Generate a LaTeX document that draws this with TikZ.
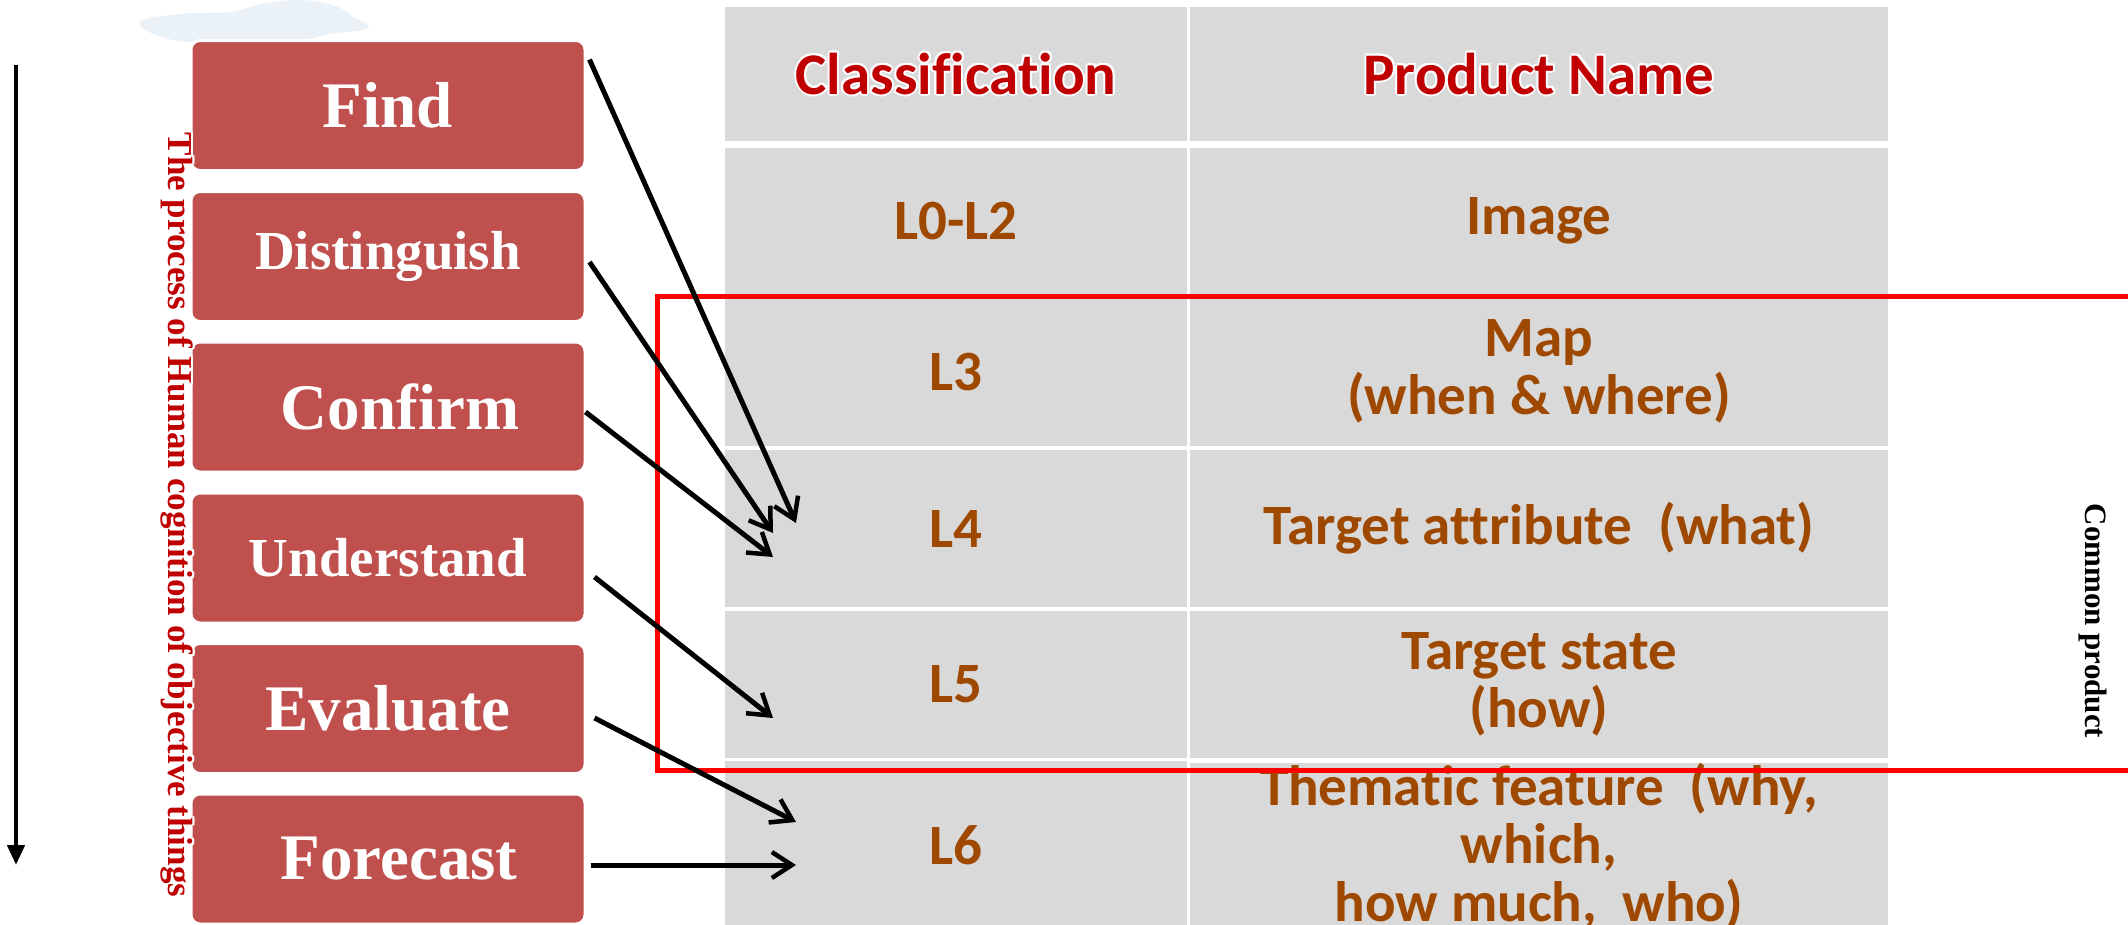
\documentclass[tikz,border=0pt]{standalone}
\usepackage{fontspec}
\setmainfont{Liberation Serif}
\newfontfamily\calfont[Ligatures=NoCommon]{Carlito}
\usetikzlibrary{arrows.meta,calc}
\definecolor{boxred}{HTML}{C0504D}
\definecolor{cellgray}{HTML}{D9D9D9}
\definecolor{hdrred}{HTML}{C00000}
\definecolor{txtbrown}{RGB}{158,72,0}
\definecolor{cloudblue}{HTML}{DCEAF4}
\tikzset{
  stepbox/.style={fill=boxred, draw=white, line width=3pt, rounded corners=9pt,
    minimum width=394pt, minimum height=130pt, text=white, inner sep=0pt,
    font=\bfseries\fontsize{65}{70}\selectfont},
  smallbox/.style={stepbox, font=\bfseries\fontsize{55}{60}\selectfont},
  cell/.style={fill=cellgray, inner sep=0pt, align=center, text=txtbrown,
    font=\calfont\bfseries\fontsize{57}{58}\selectfont},
  hcell/.style={cell, text=hdrred, font=\calfont\bfseries\fontsize{59}{62}\selectfont},
  conn/.style={line width=5pt, -{Straight Barb[length=20pt,width=26pt,line width=4.5pt]}},
  vtext/.style={rotate=-90, inner sep=0pt},
}
\begin{document}
\begin{tikzpicture}[x=1pt,y=-1pt]
\clip (0,0) rectangle (2128,924);
\fill[white] (0,0) rectangle (2128,924);

% decorative cloud
\fill[cloudblue, opacity=0.6] plot[smooth cycle, tension=0.7] coordinates
  {(140,22) (180,14) (230,12) (262,4) (300,0) (335,6) (352,16) (368,28) (330,34) (290,42) (220,44) (165,38)};

% table cells
\node[hcell, minimum width=462pt, minimum height=134pt] (h1) at (956,74) {};
\node[hcell, minimum width=698pt, minimum height=134pt] (h2) at (1539,74) {};
\foreach \dx/\dy in {2/0,-2/0,0/2,0/-2,1.5/1.5,-1.5/1.5,1.5/-1.5,-1.5/-1.5} {
  \node[text=white, font=\calfont\bfseries\fontsize{59}{62}\selectfont, inner sep=0pt] at ($(h1)+(\dx,\dy)$) {Classification};
  \node[text=white, font=\calfont\bfseries\fontsize{59}{62}\selectfont, inner sep=0pt] at ($(h2)+(\dx,\dy)$) {Product Name};
}
\node[text=hdrred, font=\calfont\bfseries\fontsize{59}{62}\selectfont, inner sep=0pt] (h1t) at (h1) {Classification};
\node[text=hdrred, font=\calfont\bfseries\fontsize{59}{62}\selectfont, inner sep=0pt] (h2t) at (h2) {Product Name};

\node[cell, minimum width=462pt, minimum height=146pt] (c01) at (956,221) {L0-L2};
\node[cell, minimum width=698pt, minimum height=146pt] (c02) at (1539,221) {Image};
\node[cell, minimum width=462pt, minimum height=149pt] (c11) at (956,371.5) {L3};
\node[cell, minimum width=698pt, minimum height=149pt] (c12) at (1539,371.5) {Map\\(when \& where)};
\node[cell, minimum width=462pt, minimum height=157pt] (c21) at (956,528.5) {L4};
\node[cell, minimum width=698pt, minimum height=157pt] (c22) at (1539,528.5) {Target attribute\ \ (what)};
\node[cell, minimum width=462pt, minimum height=147pt] (c31) at (956,684.5) {L5};
\node[cell, minimum width=698pt, minimum height=147pt] (c32) at (1539,684.5) {Target state\\(how)};
\node[cell, minimum width=462pt, minimum height=169pt] (c41) at (956,845.5) {L6};
\node[cell, minimum width=698pt, minimum height=169pt] (c42) at (1539,847) {Thematic feature\ \ (why,\\which,\\how much,\ \ who)};

% red frame
\draw[red, line width=5pt] (657,296) rectangle (2160,770);

% step boxes
\node[stepbox] (find) at (388,105.5) {Find};
\node[smallbox] (dist) at (388,256.5) {Distinguish};
\node[stepbox] (conf) at (388,407) {\hspace*{24pt}Confirm};
\node[smallbox] (unde) at (388,558) {Understand};
\node[stepbox] (eval) at (388,708.5) {Evaluate};
\node[stepbox] (fore) at (388,859) {\hspace*{22pt}Forecast};

% vertical label with glow
\foreach \dx/\dy in {2/0,-2/0,0/2,0/-2,1.5/1.5,-1.5/1.5,1.5/-1.5,-1.5/-1.5} {
  \node[vtext, text=white, font=\bfseries\fontsize{35}{40}\selectfont] at (177+\dx,515+\dy) {The process of Human cognition of objective things};
}
\node[vtext, text=hdrred, font=\bfseries\fontsize{35}{40}\selectfont] (proc) at (177,515) {The process of Human cognition of objective things};

\node[vtext, font=\bfseries\fontsize{31}{34}\selectfont] (cp) at (2093,621) {Common product};

% left arrow
\coordinate (la) at (16,65);
\coordinate (lb) at (16,865);
\draw[line width=4.5pt, -{Triangle[length=20pt,width=17pt]}] (la) -- (lb);

% connector tips
\coordinate (t1) at (796,523);
\coordinate (t2) at (773,533);
\coordinate (t3) at (773,557);
\coordinate (t4) at (773,718);
\coordinate (t5) at (796,822);
\coordinate (t6) at (796,865);

\draw[conn] ([shift={(3,-46)}]find.east) -- (t1);
\draw[conn] ([shift={(3,5.5)}]dist.east) -- (t2);
\draw[conn] ([shift={(-1,5)}]conf.east) -- (t3);
\draw[conn] ([shift={(8,19)}]unde.east) -- (t4);
\draw[conn] ([shift={(8,9.5)}]eval.east) -- (t5);
\draw[conn] ([shift={(4,6)}]fore.east) -- (t6);
\end{tikzpicture}
\end{document}
